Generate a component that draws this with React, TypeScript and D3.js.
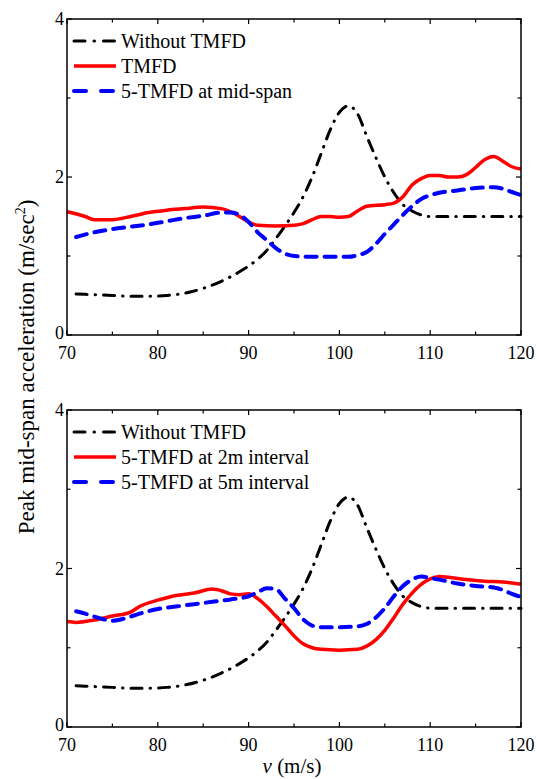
import React, { useEffect, useRef } from "react";
import * as d3 from "d3";

// speed (m/s) -> peak acceleration (m/sec^2)
const withoutTMFD = [
  [71, 0.52], [73, 0.51], [75, 0.5], [77, 0.49], [79, 0.49], [81, 0.5],
  [83, 0.53], [85, 0.59], [87, 0.68], [89, 0.8], [91, 0.96], [92, 1.07],
  [93, 1.22], [94, 1.38], [95, 1.55], [96, 1.75], [97, 2.0], [98, 2.3],
  [99, 2.6], [100, 2.82], [101, 2.9], [102, 2.8], [103, 2.52], [104, 2.25],
  [105, 2.0], [106, 1.8], [107, 1.65], [108, 1.57], [109, 1.52], [110, 1.5],
  [112, 1.5], [115, 1.5], [118, 1.5], [120, 1.5],
];

const tmfd = [
  [70, 1.56], [72, 1.5], [73, 1.46], [75, 1.46], [77, 1.5], [79, 1.55],
  [81, 1.58], [83, 1.6], [85, 1.62], [87, 1.6], [88, 1.56], [89, 1.5],
  [90, 1.43], [91, 1.39], [93, 1.38], [95, 1.39], [96, 1.41], [97, 1.46],
  [98, 1.5], [99, 1.5], [100, 1.49], [101, 1.5], [102, 1.57], [103, 1.63],
  [105, 1.65], [106, 1.67], [107, 1.75], [108, 1.9], [109, 1.98], [110, 2.02],
  [111, 2.02], [112, 2.0], [113, 2.0], [114, 2.03], [115, 2.12], [116, 2.22],
  [117, 2.26], [118, 2.2], [119, 2.13], [120, 2.1],
];

const tmfdMidSpan = [
  [71, 1.24], [73, 1.3], [75, 1.34], [77, 1.37], [79, 1.4], [81, 1.44],
  [83, 1.48], [85, 1.51], [87, 1.55], [88, 1.55], [89, 1.52], [90, 1.43],
  [91, 1.3], [92, 1.2], [93, 1.1], [94, 1.03], [95, 1.0], [97, 0.99],
  [99, 0.99], [101, 0.99], [102, 1.01], [103, 1.05], [104, 1.15], [105, 1.28],
  [106, 1.4], [107, 1.52], [108, 1.63], [109, 1.72], [110, 1.77], [111, 1.8],
  [113, 1.83], [115, 1.86], [117, 1.87], [118, 1.85], [119, 1.81], [120, 1.77],
];

const tmfd2m = [
  [70, 1.33], [71, 1.32], [73, 1.35], [75, 1.4], [77, 1.45], [78, 1.52],
  [80, 1.6], [82, 1.66], [84, 1.69], [86, 1.74], [87, 1.72], [88, 1.68],
  [89, 1.67], [90, 1.68], [91, 1.62], [92, 1.52], [93, 1.4], [94, 1.28],
  [95, 1.15], [96, 1.05], [97, 1.0], [98, 0.98], [100, 0.97], [102, 0.98],
  [103, 1.02], [104, 1.1], [105, 1.22], [106, 1.38], [107, 1.55], [108, 1.69],
  [109, 1.8], [110, 1.87], [111, 1.9], [112, 1.89], [114, 1.86], [116, 1.84],
  [118, 1.83], [120, 1.8],
];

const tmfd5m = [
  [71, 1.46], [72, 1.43], [74, 1.36], [75, 1.34], [76, 1.36], [78, 1.43],
  [80, 1.49], [82, 1.52], [84, 1.55], [86, 1.58], [88, 1.61], [90, 1.65],
  [91, 1.7], [92, 1.75], [93, 1.74], [94, 1.62], [95, 1.5], [96, 1.36],
  [97, 1.28], [98, 1.26], [100, 1.26], [102, 1.27], [103, 1.3], [104, 1.38],
  [105, 1.5], [106, 1.65], [107, 1.78], [108, 1.86], [109, 1.9], [110, 1.88],
  [111, 1.86], [113, 1.81], [115, 1.78], [117, 1.76], [118, 1.73], [119, 1.68],
  [120, 1.64],
];

const xTicks = [70, 80, 90, 100, 110, 120];
const yTicks = [0, 2, 4];

const styles = {
  black: { color: "#000", width: 3, dash: "11,8,0.5,8", legendDash: "11,9,0.5,9" },
  red: { color: "#ff0000", width: 3.5, dash: null, legendDash: null },
  blue: { color: "#0000ff", width: 4, dash: "11,8", legendDash: "12,15" },
};

const topSeries = [
  { name: "Without TMFD", data: withoutTMFD, style: styles.black },
  { name: "TMFD", data: tmfd, style: styles.red },
  { name: "5-TMFD at mid-span", data: tmfdMidSpan, style: styles.blue },
];

const bottomSeries = [
  { name: "Without TMFD", data: withoutTMFD, style: styles.black },
  { name: "5-TMFD at 2m interval", data: tmfd2m, style: styles.red },
  { name: "5-TMFD at 5m interval", data: tmfd5m, style: styles.blue },
];

const font = "'Times New Roman', Times, 'Liberation Serif', 'DejaVu Serif', serif";

const App = () => {
  const ref = useRef<SVGSVGElement>(null);

  useEffect(() => {
    document.body.style.margin = "0";
    const svg = d3.select(ref.current);
    svg.selectAll("*").remove();

    const left = 67;
    const right = 521;

    const drawPanel = (top: number, bottom: number, series: any[]) => {
      const x = d3.scaleLinear().domain([70, 120]).range([left, right]);
      const y = d3.scaleLinear().domain([0, 4]).range([bottom, top]);
      const g = svg.append("g");

      const line = d3
        .line<number[]>()
        .x((d) => x(d[0]))
        .y((d) => y(d[1]))
        .curve(d3.curveMonotoneX);

      series.forEach((s) => {
        g.append("path")
          .datum(s.data)
          .attr("fill", "none")
          .attr("stroke", s.style.color)
          .attr("stroke-width", s.style.width)
          .attr("stroke-dasharray", s.style.dash)
          .attr("stroke-linecap", s.style.dash ? "round" : "butt")
          .attr("d", line);
      });

      // frame
      g.append("rect")
        .attr("x", left)
        .attr("y", top)
        .attr("width", right - left)
        .attr("height", bottom - top)
        .attr("fill", "none")
        .attr("stroke", "#000")
        .attr("stroke-width", 1.5);

      // ticks, inward on all four sides
      const xMinor = d3.range(75, 120, 10);
      const yMinor = [1, 3];
      const tk = g.append("g").attr("stroke", "#000").attr("stroke-width", 1.2);
      xTicks.concat(xMinor).forEach((v) => {
        const len = xTicks.includes(v) ? 5 : 3.5;
        tk.append("line").attr("x1", x(v)).attr("x2", x(v)).attr("y1", bottom).attr("y2", bottom - len);
        tk.append("line").attr("x1", x(v)).attr("x2", x(v)).attr("y1", top).attr("y2", top + len);
      });
      yTicks.concat(yMinor).forEach((v) => {
        const len = yTicks.includes(v) ? 5 : 3.5;
        tk.append("line").attr("x1", left).attr("x2", left + len).attr("y1", y(v)).attr("y2", y(v));
        tk.append("line").attr("x1", right).attr("x2", right - len).attr("y1", y(v)).attr("y2", y(v));
      });

      g.selectAll(".xl")
        .data(xTicks)
        .enter()
        .append("text")
        .attr("x", (d) => x(d))
        .attr("y", bottom + 24)
        .attr("text-anchor", "middle")
        .style("font-family", font)
        .style("font-size", "18px")
        .text((d) => d);

      g.selectAll(".yl")
        .data(yTicks)
        .enter()
        .append("text")
        .attr("x", left - 3)
        .attr("y", (d) => y(d) + (d === 0 ? 4 : 6))
        .attr("text-anchor", "end")
        .style("font-family", font)
        .style("font-size", "18px")
        .text((d) => d);

      // legend
      series.forEach((s, i) => {
        const ly = top + 22 + i * 25;
        g.append("line")
          .attr("x1", 74)
          .attr("x2", 116)
          .attr("y1", ly)
          .attr("y2", ly)
          .attr("stroke", s.style.color)
          .attr("stroke-width", s.style.width)
          .attr("stroke-dasharray", s.style.legendDash)
          .attr("stroke-linecap", s.style.legendDash ? "round" : "butt");
        g.append("text")
          .attr("x", 121)
          .attr("y", ly + 6.5)
          .style("font-family", font)
          .style("font-size", "20px")
          .text(s.name);
      });
    };

    drawPanel(19, 335, topSeries);
    drawPanel(410, 727, bottomSeries);

    // y axis title, shared
    const yt = svg
      .append("text")
      .attr("transform", "translate(34, 367) rotate(-90)")
      .attr("text-anchor", "middle")
      .style("font-family", font)
      .style("font-size", "23px");
    yt.append("tspan").text("Peak mid-span acceleration (m/sec");
    yt.append("tspan").attr("dy", -9).style("font-size", "14px").text("2");
    yt.append("tspan").attr("dy", 9).text(")");

    const xt = svg
      .append("text")
      .attr("x", 292)
      .attr("y", 773)
      .attr("text-anchor", "middle")
      .style("font-family", font)
      .style("font-size", "21px");
    xt.append("tspan").style("font-style", "italic").text("v");
    xt.append("tspan").text(" (m/s)");
  }, []);

  return <svg ref={ref} width={537} height={779} style={{ display: "block", background: "#fff" }} />;
};

export default App;
